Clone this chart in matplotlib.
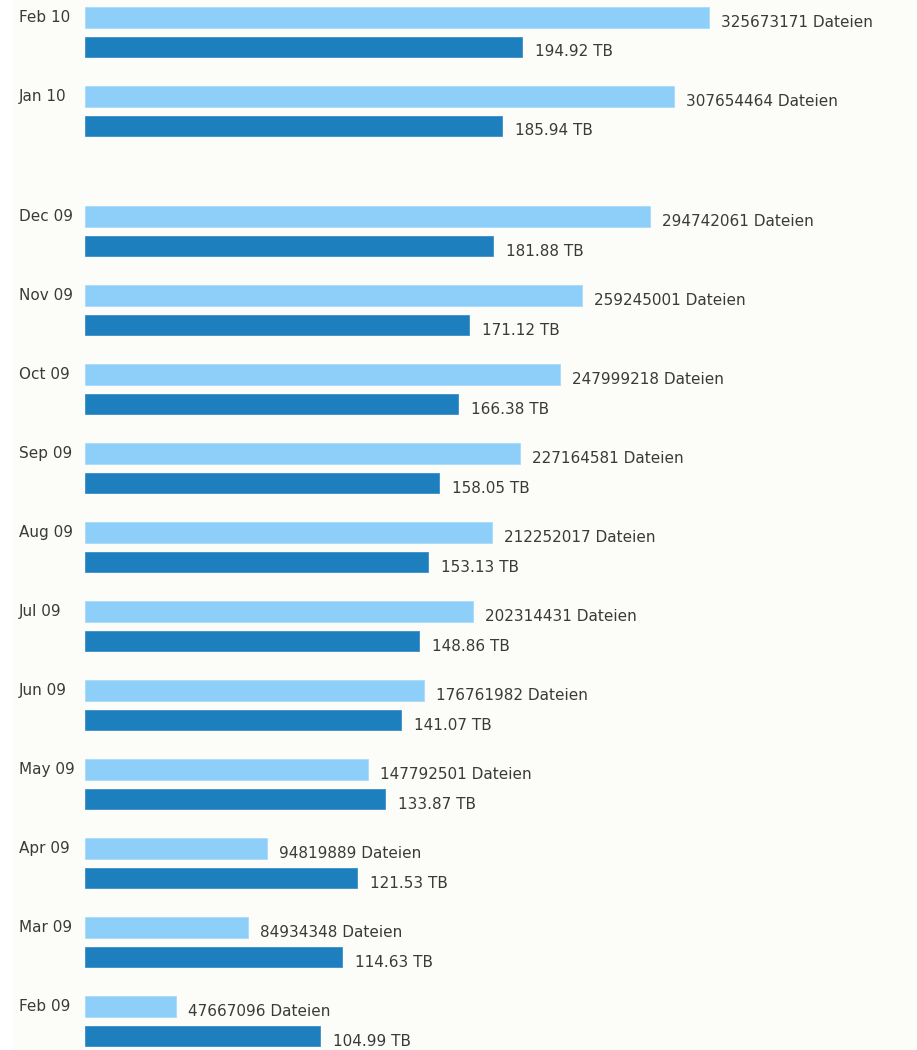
import numpy as np
import matplotlib
matplotlib.use('Agg')
import matplotlib.pyplot as plt
from matplotlib.transforms import blended_transform_factory
from matplotlib.patches import Rectangle

# months, newest first (as in the original chart)
months = ['Feb 10', 'Jan 10', 'Dec 09', 'Nov 09', 'Oct 09', 'Sep 09', 'Aug 09',
          'Jul 09', 'Jun 09', 'May 09', 'Apr 09', 'Mar 09', 'Feb 09']
files = [325673171, 307654464, 294742061, 259245001, 247999218, 227164581, 212252017,
         202314431, 176761982, 147792501, 94819889, 84934348, 47667096]
terabytes = [194.92, 185.94, 181.88, 171.12, 166.38, 158.05, 153.13,
             148.86, 141.07, 133.87, 121.53, 114.63, 104.99]

LIGHT = '#8dcff8'
DARK = '#1e7fbe'
TEXT = '#3a3a3a'
BG = '#fcfcf8'

W, H, DPI = 917, 1050, 100
ROW_PX = 79.0

plt.rcParams['font.family'] = ['DejaVu Sans']

fig = plt.figure(figsize=(W / DPI, H / DPI), dpi=DPI, facecolor=BG)
fig.patches.append(Rectangle((0, 0), 13 / W, 1, transform=fig.transFigure,
                             facecolor='#ffffff', edgecolor='none', zorder=-1))

left = 85 / W
ax = fig.add_axes([left, 0, 1 - left, 1])
ax.set_facecolor('none')
ax2 = ax.twiny()

# row positions: extra gap between the 2010 and 2009 blocks
idx = np.arange(len(months))
ypos = idx + 0.52 * (idx >= 2)

top = 32.3 / ROW_PX
ax.set_ylim(H / ROW_PX - top, -top)
ax2.set_ylim(H / ROW_PX - top, -top)

ax_px = W - 85
ax.set_xlim(0, ax_px / 1.916e-6)
ax2.set_xlim(0, ax_px / 2.242)

bh = 20.7 / ROW_PX
off = 14.65 / ROW_PX

ax.barh(ypos - off, files, height=bh, color=LIGHT, edgecolor='#a9dbfa', linewidth=0.6)
ax2.barh(ypos + off, terabytes, height=bh, color=DARK, edgecolor='#3b8fc8', linewidth=0.6)

fs = 11
for y, f in zip(ypos, files):
    ax.annotate(f'{f} Dateien', (f, y - off), xytext=(12, -5), textcoords='offset pixels',
                va='center', ha='left', fontsize=fs, color=TEXT)
for y, t in zip(ypos, terabytes):
    ax2.annotate(f'{t:.2f} TB', (t, y + off), xytext=(13, -5), textcoords='offset pixels',
                 va='center', ha='left', fontsize=fs, color=TEXT)

trans = blended_transform_factory(fig.transFigure, ax.transData)
for y, m in zip(ypos, months):
    ax.text(19 / W, y - off, m, transform=trans, va='center', ha='left',
            fontsize=fs, color=TEXT)

for a in (ax, ax2):
    a.set_xticks([])
    a.set_yticks([])
    for s in a.spines.values():
        s.set_visible(False)

fig.savefig('out.png', dpi=DPI, facecolor=BG)
